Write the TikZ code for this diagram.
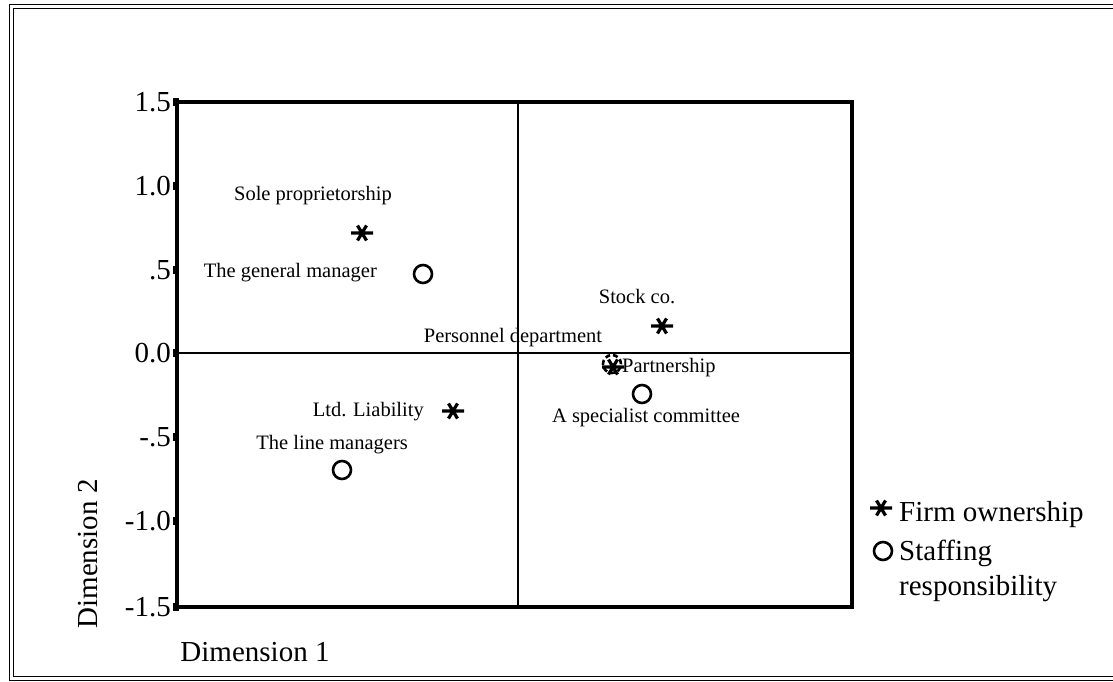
\documentclass[tikz,border=0pt]{standalone}
\usepackage{fontspec}
\setmainfont{Liberation Serif}
\begin{document}
\begin{tikzpicture}[x=1pt,y=-1pt,
  lab/.style={font=\fontsize{20.5}{24}\selectfont, inner sep=0pt},
  big/.style={font=\fontsize{29}{33}\selectfont, inner sep=0pt},
  axisline/.style={line width=3.2pt, line cap=rect},
  midline/.style={line width=2.3pt},
  ring/.style={draw, circle, line width=2.6pt, minimum size=18pt, inner sep=0pt},
  dring/.style={ring, dashed, dash pattern=on 5pt off 3pt},
  tickmark/.style={fill=black, minimum width=6pt, minimum height=8pt, inner sep=0pt},
  ast/.pic={\draw[line width=3.2pt] (-11,0) -- (11,0) (-4.5,-7.5) -- (4.5,7.5) (4.5,-7.5) -- (-4.5,7.5);}]
\useasboundingbox (0,0) rectangle (1113,682);

% outer double frame
\draw[line width=0.9pt] (1113,4) -- (9,4) -- (9,680) -- (1113,680);
\draw[line width=0.9pt] (1113,8) -- (13,8) -- (13,676) -- (1113,676);

% plot area
\coordinate (tl) at (177,102);
\coordinate (br) at (852,607);
\draw[axisline] (tl) rectangle (br);
\coordinate (vt) at (518,102);
\coordinate (vb) at (518,607);
\coordinate (hl) at (177,353);
\coordinate (hr) at (852,353);
\draw[midline] (vt) -- (vb);
\draw[midline] (hl) -- (hr);

% y ticks and labels
\foreach \v/\yy/\n in {1.5/102/a, 1.0/186/b, .5/270/c, 0.0/353/d, -.5/437/e, -1.0/521/f, -1.5/607/g}{
  \node[tickmark] (t\n) at (176,\yy) {};
  \node[big, anchor=east] (l\n) at (171,\yy) {\v};
}

% axis titles
\node[big, rotate=90] (d2) at (88,554) {Dimension 2};
\node[big] (d1) at (255,652) {Dimension 1};

% firm ownership points
\pic (sp) at (362,233) {ast};
\pic (sc) at (662,326) {ast};
\pic (pa) at (613,367) {ast};
\pic (ll) at (453,411) {ast};

% staffing responsibility points
\node[ring] (gm) at (423,274) {};
\node[dring] (pd) at (612,364) {};
\node[ring] (sco) at (642,394) {};
\node[ring] (lm) at (342,470) {};

% point labels
\node[lab] (lsp) at (313,196) {Sole proprietorship};
\node[lab, anchor=east] (lgm) at (377,273) {The general manager};
\node[lab] (lsc) at (637,297) {Stock co.};
\node[lab] (lpd) at (513,338) {Personnel department};
\node[lab, anchor=west] (lpa) at (622,368) {Partnership};
\node[lab] (lsco) at (646,418) {A specialist committee};
\node[lab, anchor=east] (lll) at (424,412) {Ltd. Liability};
\node[lab, anchor=east] (llm) at (408,445) {The line managers};

% legend
\pic (k1) at (881,508) {ast};
\node[big, anchor=west] (lk1) at (899,515) {Firm ownership};
\node[ring] (k2) at (883,551) {};
\node[big, anchor=west] (lk2) at (899,553) {Staffing};
\node[big, anchor=west] (lk3) at (899,589) {responsibility};
\end{tikzpicture}
\end{document}
